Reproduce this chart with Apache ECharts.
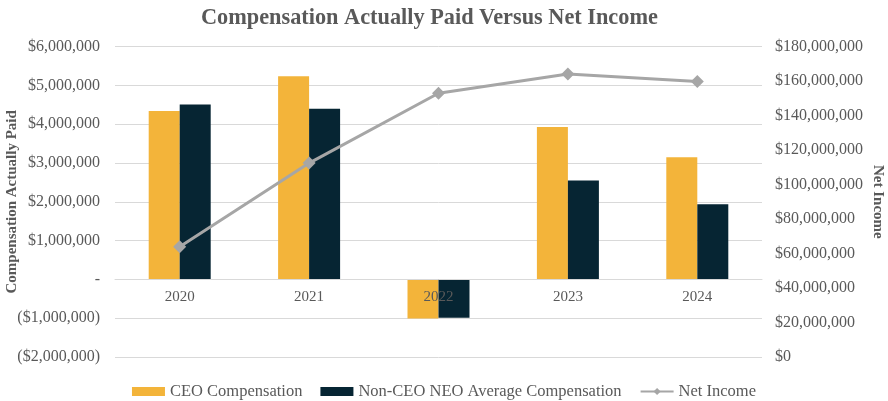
<!DOCTYPE html>
<html>
<head>
<meta charset="utf-8">
<script src="https://cdn.jsdelivr.net/npm/echarts@6/dist/echarts.min.js"></script>
<style>html,body{margin:0;padding:0;background:#fff}#c{width:888px;height:401px}</style>
</head>
<body>
<div id="c"></div>
<script>
const categories = ['2020', '2021', '2022', '2023', '2024'];
const ceoCompensation = [4340000, 5240000, -1010000, 3930000, 3150000];
const neoAvgCompensation = [4510000, 4400000, -990000, 2550000, 1940000];
const netIncome = [64000000, 112500000, 153000000, 164200000, 159800000];

const FONT = '"Liberation Serif", "Times New Roman", serif';
const TXT = '#595959';

function money(v) {
  return '$' + Math.abs(v).toLocaleString('en-US');
}
function leftFmt(v) {
  if (v === 0) return '-';
  if (v < 0) return '(' + money(v) + ')';
  return money(v);
}

const GRID_TOP = 46.7, GRID_BOTTOM = 44, CHART_H = 401;
const LEFT_MIN = -2000000, LEFT_MAX = 6000000;
// move the category axis up to the zero line of the left axis
const plotH = CHART_H - GRID_TOP - GRID_BOTTOM;
const zeroOffset = -plotH * (0 - LEFT_MIN) / (LEFT_MAX - LEFT_MIN);

const chart = echarts.init(document.getElementById('c'));
chart.setOption({
  animation: false,
  backgroundColor: '#fff',
  textStyle: { fontFamily: FONT },
  title: {
    text: 'Compensation Actually Paid Versus Net Income',
    left: 196,
    top: 2,
    textStyle: { fontFamily: FONT, fontSize: 22.3, fontWeight: 'bold', color: TXT }
  },
  legend: {
    top: 378,
    left: 'center',
    itemGap: 18,
    itemWidth: 33,
    itemHeight: 9,
    textStyle: { fontFamily: FONT, fontSize: 16.5, color: TXT },
    data: [
      { name: 'CEO Compensation', icon: 'rect' },
      { name: 'Non-CEO NEO Average Compensation', icon: 'rect' },
      { name: 'Net Income' }
    ]
  },
  grid: { left: 115, right: 126, top: GRID_TOP, bottom: GRID_BOTTOM, outerBoundsMode: 'none', containLabel: false },
  xAxis: {
    type: 'category',
    data: categories,
    offset: zeroOffset,
    z: 4,
    axisLine: { onZero: false, lineStyle: { color: '#d9d9d9', width: 1 } },
    axisTick: { show: false },
    axisLabel: { fontFamily: FONT, fontSize: 15, color: TXT, margin: 10 }
  },
  yAxis: [
    {
      type: 'value',
      min: LEFT_MIN, max: LEFT_MAX, interval: 1000000,
      name: 'Compensation Actually Paid',
      nameLocation: 'middle',
      nameRotate: 90,
      nameGap: 95,
      nameMoveOverlap: false,
      nameTextStyle: { fontFamily: FONT, fontSize: 15, fontWeight: 'bold', color: TXT },
      axisLine: { show: false },
      axisTick: { show: false },
      axisLabel: { fontFamily: FONT, fontSize: 16, color: TXT, margin: 15, formatter: leftFmt },
      splitLine: { lineStyle: { color: '#d9d9d9', width: 1 } }
    },
    {
      type: 'value',
      min: 0, max: 180000000, interval: 20000000,
      position: 'right',
      name: 'Net Income',
      nameLocation: 'middle',
      nameRotate: -90,
      nameGap: 108,
      nameMoveOverlap: false,
      nameTextStyle: { fontFamily: FONT, fontSize: 15, fontWeight: 'bold', color: TXT },
      axisLine: { show: false },
      axisTick: { show: false },
      axisLabel: { fontFamily: FONT, fontSize: 16, color: TXT, margin: 13, formatter: money },
      splitLine: { show: false }
    }
  ],
  series: [
    {
      name: 'CEO Compensation',
      type: 'bar',
      data: ceoCompensation,
      barWidth: 31,
      barGap: '0%',
      itemStyle: { color: '#F3B43A' }
    },
    {
      name: 'Non-CEO NEO Average Compensation',
      type: 'bar',
      data: neoAvgCompensation,
      barWidth: 31,
      barGap: '0%',
      itemStyle: { color: '#062533' }
    },
    {
      name: 'Net Income',
      type: 'line',
      yAxisIndex: 1,
      data: netIncome,
      symbol: 'diamond',
      symbolSize: 13,
      lineStyle: { color: '#A6A6A6', width: 3 },
      itemStyle: { color: '#A6A6A6' },
      z: 5
    }
  ]
});
</script>
</body>
</html>
